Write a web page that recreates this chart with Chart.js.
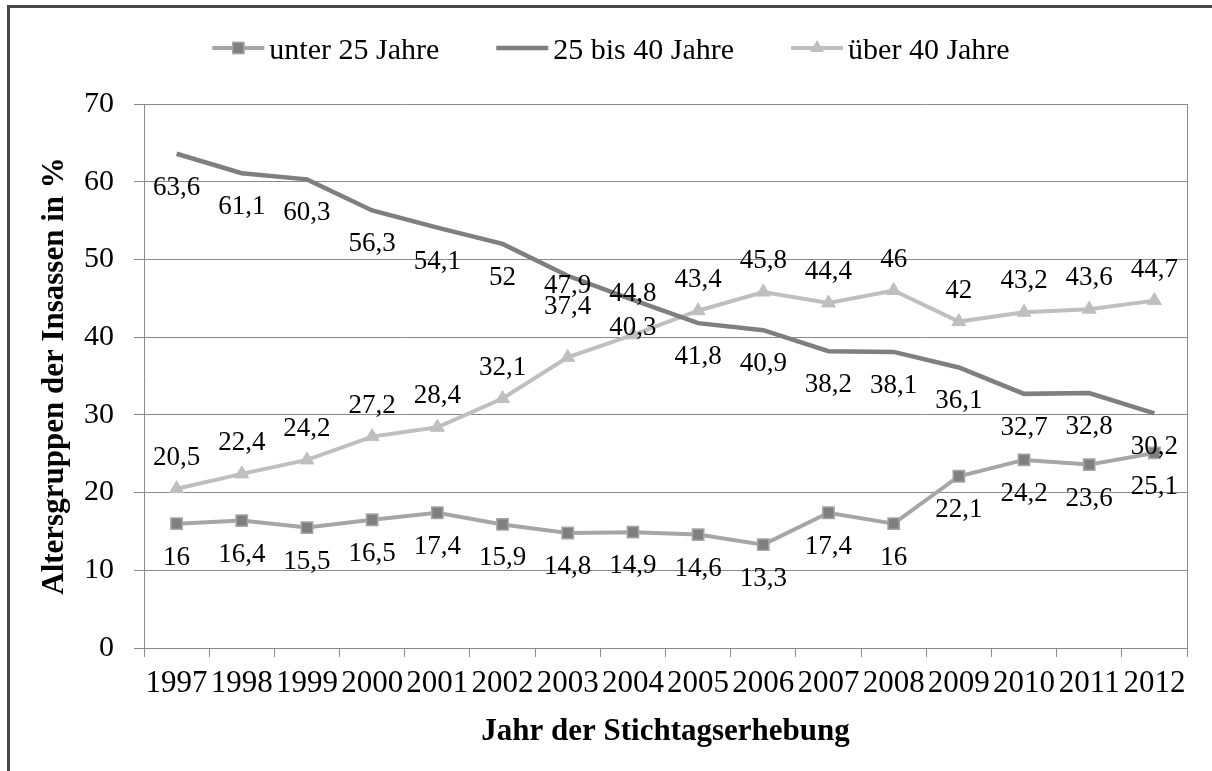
<!DOCTYPE html>
<html><head><meta charset="utf-8">
<script src="https://cdn.jsdelivr.net/npm/chart.js@4"></script>
<style>
html,body{margin:0;padding:0;background:#fff;}
#wrap{position:relative;width:1212px;height:771px;overflow:hidden;background:#fff;}
#frame{position:absolute;left:7px;top:5px;width:1300px;height:900px;border-top:3px solid #474747;border-left:3px solid #474747;}
canvas{position:absolute;left:0;top:0;}
</style></head><body>
<div id="wrap"><div id="frame"></div><canvas id="c" width="1212" height="771"></canvas></div>
<script>
const years = ['1997','1998','1999','2000','2001','2002','2003','2004','2005','2006','2007','2008','2009','2010','2011','2012'];
const under25 = [16, 16.4, 15.5, 16.5, 17.4, 15.9, 14.8, 14.9, 14.6, 13.3, 17.4, 16, 22.1, 24.2, 23.6, 25.1];
const age25to40 = [63.6, 61.1, 60.3, 56.3, 54.1, 52, 47.9, 44.8, 41.8, 40.9, 38.2, 38.1, 36.1, 32.7, 32.8, 30.2];
const over40 = [20.5, 22.4, 24.2, 27.2, 28.4, 32.1, 37.4, 40.3, 43.4, 45.8, 44.4, 46, 42, 43.2, 43.6, 44.7];
const seriesNames = ['unter 25 Jahre', '25 bis 40 Jahre', 'über 40 Jahre'];
const yTicks = [0, 10, 20, 30, 40, 50, 60, 70];
const xTitle = 'Jahr der Stichtagserhebung';
const yTitle = 'Altersgruppen der Insassen in %';

const SERIF = '"Liberation Serif", "Times New Roman", serif';
const GRID = '#8a8a8a';

// data label placement (style): default offset of label centre from point, plus a few hand-moved labels
const dataLabelPlugin = {
  id: 'dataLabels',
  afterDatasetsDraw(chart) {
    const ctx = chart.ctx;
    ctx.save();
    ctx.font = '27px ' + SERIF;
    ctx.fillStyle = '#000';
    ctx.textAlign = 'center';
    ctx.textBaseline = 'alphabetic';
    chart.data.datasets.forEach((ds, i) => {
      const meta = chart.getDatasetMeta(i);
      meta.data.forEach((pt, j) => {
        const txt = String(ds.data[j]).replace('.', ',');
        let off = ds.labelPos === 'above' ? -33 : 32;
        if (ds.labelNudge && ds.labelNudge[j] !== undefined) off = ds.labelNudge[j];
        ctx.fillText(txt, pt.x, pt.y + off + 9);
      });
    });
    ctx.restore();
  }
};

const plotBorderPlugin = {
  id: 'plotBorder',
  beforeDatasetsDraw(chart) {
    const {ctx, chartArea} = chart;
    const x = Math.round(chartArea.right) + 0.5;
    ctx.save();
    ctx.strokeStyle = GRID;
    ctx.lineWidth = 1;
    ctx.beginPath();
    ctx.moveTo(x, chartArea.top);
    ctx.lineTo(x, chartArea.bottom);
    ctx.stroke();
    ctx.restore();
  }
};

const legendPlugin = {
  id: 'customLegend',
  afterDraw(chart) {
    const ctx = chart.ctx;
    ctx.save();
    ctx.font = '30px ' + SERIF;
    const symW = 52, gapText = 5, gapItem = 57;
    const items = chart.data.datasets.map(ds => ({ds, w: ctx.measureText(ds.label).width}));
    const total = items.reduce((s, it) => s + symW + gapText + it.w, 0) + gapItem * (items.length - 1);
    let x = chart.width / 2 + 5 - total / 2;
    const y = 48;
    items.forEach(it => {
      const ds = it.ds;
      ctx.strokeStyle = ds.borderColor;
      ctx.lineWidth = ds.borderWidth;
      ctx.beginPath();
      ctx.moveTo(x, y);
      ctx.lineTo(x + symW, y);
      ctx.stroke();
      const cx = x + symW / 2;
      if (ds.pointStyle === 'rect' && ds.pointRadius > 0) {
        const s = ds.pointRadius * Math.SQRT1_2;
        ctx.fillStyle = ds.pointBackgroundColor;
        ctx.fillRect(cx - s, y - s, 2 * s, 2 * s);
        ctx.lineWidth = ds.pointBorderWidth;
        ctx.strokeStyle = ds.pointBorderColor;
        ctx.strokeRect(cx - s, y - s, 2 * s, 2 * s);
      } else if (ds.pointStyle === 'triangle' && ds.pointRadius > 0) {
        const r = ds.pointRadius;
        ctx.fillStyle = ds.pointBackgroundColor;
        ctx.beginPath();
        ctx.moveTo(cx, y - r);
        ctx.lineTo(cx + Math.sin(2 * Math.PI / 3) * r, y + r / 2);
        ctx.lineTo(cx - Math.sin(2 * Math.PI / 3) * r, y + r / 2);
        ctx.closePath();
        ctx.fill();
      }
      ctx.fillStyle = '#000';
      ctx.textAlign = 'left';
      ctx.textBaseline = 'alphabetic';
      ctx.fillText(ds.label, x + symW + gapText, y + 10.5);
      x += symW + gapText + it.w + gapItem;
    });
    ctx.restore();
  }
};

new Chart(document.getElementById('c'), {
  type: 'line',
  data: {
    labels: years,
    datasets: [
      {
        label: seriesNames[0], data: under25, labelPos: 'below',
        borderColor: '#a6a6a6', borderWidth: 4, tension: 0,
        pointStyle: 'rect', pointRadius: 8, pointHoverRadius: 8,
        pointBackgroundColor: '#7f7f7f', pointBorderColor: '#a6a6a6', pointBorderWidth: 1.5
      },
      {
        label: seriesNames[1], data: age25to40, labelPos: 'below', labelNudge: {6: 8, 7: -8},
        borderColor: '#7f7f7f', borderWidth: 4.5, tension: 0,
        pointStyle: 'circle', pointRadius: 0, pointHoverRadius: 0,
        pointBackgroundColor: '#7f7f7f', pointBorderColor: '#7f7f7f', pointBorderWidth: 0
      },
      {
        label: seriesNames[2], data: over40, labelPos: 'above', labelNudge: {6: -52, 7: -9},
        borderColor: '#bfbfbf', borderWidth: 4, tension: 0,
        pointStyle: 'triangle', pointRadius: 8, pointHoverRadius: 8,
        pointBackgroundColor: '#bfbfbf', pointBorderColor: '#bfbfbf', pointBorderWidth: 1
      }
    ]
  },
  options: {
    responsive: false,
    animation: false,
    devicePixelRatio: 1,
    layout: { padding: { top: 104, right: 25, bottom: 0, left: 0 } },
    plugins: {
      legend: { display: false },
      tooltip: { enabled: false }
    },
    scales: {
      x: {
        type: 'category',
        offset: true,
        grid: { display: true, drawOnChartArea: false, offset: true, tickLength: 9, color: GRID, lineWidth: 1 },
        border: { display: true, color: GRID, width: 1 },
        ticks: { font: { family: SERIF, size: 31 }, color: '#000', padding: 8, maxRotation: 0, minRotation: 0, autoSkip: false },
        title: { display: true, text: xTitle, color: '#000', font: { family: SERIF, size: 31, weight: 'bold' }, padding: { top: 0, bottom: 20 } },
        afterFit(s) { s.height = 123; }
      },
      y: {
        min: 0, max: 70,
        afterBuildTicks(s) { s.ticks = yTicks.map(v => ({ value: v })); },
        grid: { color: GRID, lineWidth: 1, tickLength: 10 },
        border: { display: true, color: GRID, width: 1 },
        ticks: { font: { family: SERIF, size: 30 }, color: '#000', padding: 20 },
        title: { display: true, text: yTitle, color: '#000', font: { family: SERIF, size: 31, weight: 'bold' }, padding: { top: 36, bottom: 0 } },
        afterFit(s) { s.width = 144; }
      }
    }
  },
  plugins: [plotBorderPlugin, dataLabelPlugin, legendPlugin]
});
</script>
</body></html>
